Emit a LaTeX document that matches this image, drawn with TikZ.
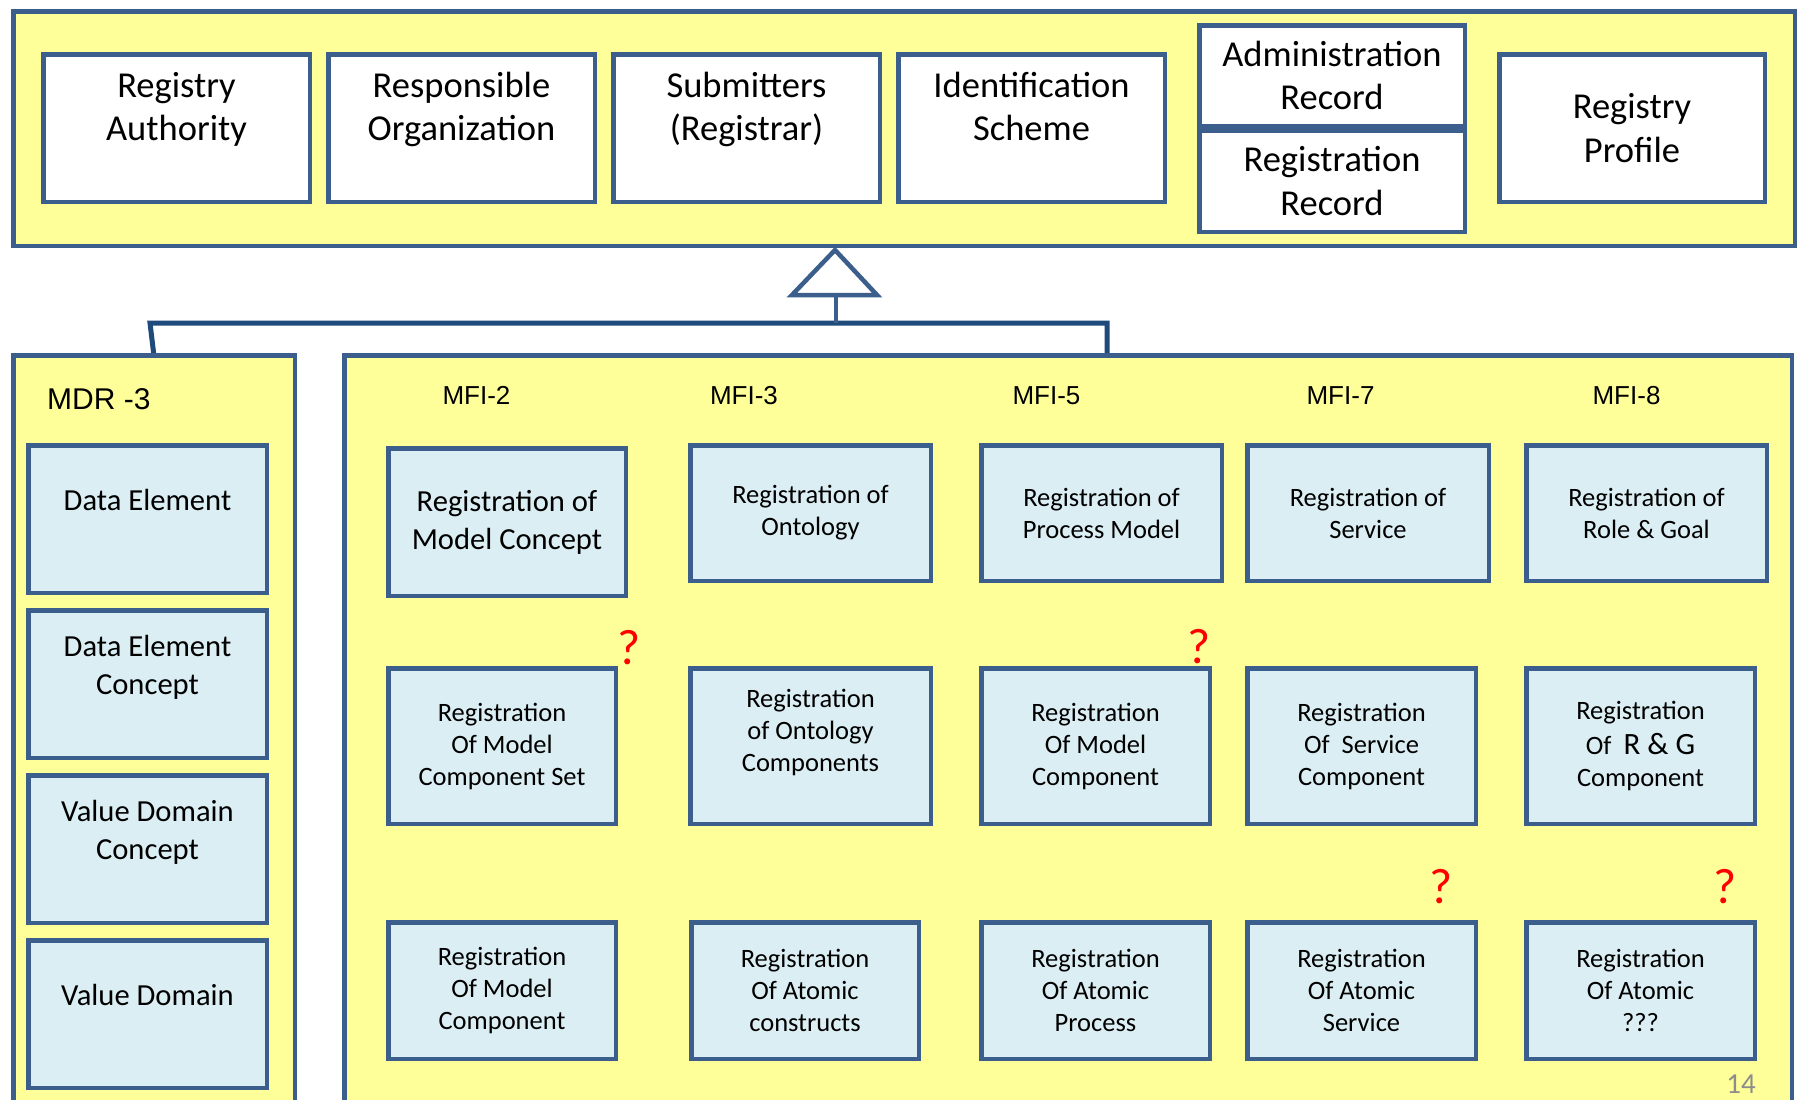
\documentclass[tikz,border=0pt]{standalone}
\usepackage{fontspec}
\setmainfont{Carlito}
\newfontfamily\arialfont{Liberation Sans}
\definecolor{bordc}{HTML}{3B5E8C}
\definecolor{navy}{HTML}{1F4A7C}
\definecolor{ylw}{HTML}{FFFF99}
\definecolor{lblue}{HTML}{DBEEF3}
\definecolor{qred}{HTML}{FF0000}
\definecolor{pgray}{HTML}{8C8C8C}
\newcommand\bx[7]{\node[#6,minimum width={#4-#2-4.5},minimum height={#5-#3-4.5}] (#1) at ({(#2+#4)/2},{(#3+#5)/2}) {#7};}
\tikzset{
  panel/.style={draw=bordc, line width=4.5pt, fill=ylw, inner sep=0pt},
  wbox/.style={draw=bordc, line width=4.5pt, fill=white, inner sep=0pt, align=center, font=\fontsize{36.5}{43.5}\selectfont},
  mdrbox/.style={draw=bordc, line width=4.5pt, fill=lblue, inner sep=0pt, align=center, font=\fontsize{30.6}{38}\selectfont},
  mfibox/.style={draw=bordc, line width=4.5pt, fill=lblue, inner sep=0pt, align=center, font=\fontsize{26.5}{32}\selectfont},
  collabel/.style={font=\arialfont\fontsize{26}{31}\selectfont, anchor=base, inner sep=0pt},
  qmark/.style={text=qred, font=\fontsize{50}{60}\selectfont, anchor=base, inner sep=0pt},
  conn/.style={draw=navy, line width=5pt, line join=miter},
  tri/.style={draw=bordc, line width=4.5pt, line join=miter},
}
\begin{document}
\begin{tikzpicture}[x=1pt,y=-1pt]
\useasboundingbox (0,0) rectangle (1800,1100);
\clip (0,0) rectangle (1800,1100);
\fill[white] (0,0) rectangle (1800,1100);
% top band
\bx{band}{11}{9}{1797}{248}{panel}{}
\bx{ra}{41}{52}{312}{204}{wbox}{Registry\\Authority\\\mbox{}}
\bx{ro}{326}{52}{597}{204}{wbox}{Responsible\\Organization\\\mbox{}}
\bx{sub}{611}{52}{882}{204}{wbox}{Submitters\\(Registrar)\\\mbox{}}
\bx{ids}{896}{52}{1167}{204}{wbox}{Identification\\Scheme\\\mbox{}}
\bx{adm}{1197}{23}{1467}{128}{wbox}{Administration\\Record}
\bx{rgr}{1197}{128}{1467}{234}{wbox}{Registration\\Record}
\bx{rp}{1497}{52}{1767}{204}{wbox}{Registry\\Profile}
% connectors
\coordinate (apex) at (835,250);
\coordinate (tbl) at (792,295);
\coordinate (tbr) at (877,295);
\coordinate (tbase) at (836,295);
\coordinate (hj) at (836,323);
\coordinate (hl) at (150,323);
\coordinate (hr) at (1107,323);
\coordinate (mdrin) at (154,356);
\coordinate (mfiin) at (1107,356);
\draw[conn] (mdrin) -- (hl) -- (hr) -- (mfiin);
\draw[tri] (tbase) -- (hj);
\draw[tri, fill=white] (apex) -- (tbl) -- (tbr) -- cycle;
% lower panels
\bx{mdr}{11}{353}{297}{1115}{panel}{}
\bx{mfi}{342}{353}{1794}{1115}{panel}{}
\node[collabel, anchor=base west, font=\arialfont\fontsize{30}{36}\selectfont] (mdrlab) at (47,409) {MDR -3};
\node[collabel] (l2) at (476.5,404) {MFI-2};
\node[collabel] (l3) at (744,404) {MFI-3};
\node[collabel] (l5) at (1046.5,404) {MFI-5};
\node[collabel] (l7) at (1340.5,404) {MFI-7};
\node[collabel] (l8) at (1626.5,404) {MFI-8};
% MDR boxes
\bx{de}{26}{443}{269}{595}{mdrbox}{Data Element\\\mbox{}}
\bx{dec}{26}{608}{269}{760}{mdrbox}{Data Element\\Concept\\\mbox{}}
\bx{vdc}{26}{773}{269}{925}{mdrbox}{Value Domain\\Concept\\\mbox{}}
\bx{vd}{26}{938}{269}{1090}{mdrbox}{Value Domain\\\mbox{}}
% MFI row 1
\bx{m2a}{386}{446}{628}{598}{mdrbox}{Registration of\\Model Concept}
\bx{m3a}{688}{443}{933}{583}{mfibox}{Registration of\\Ontology}
\bx{m5a}{979}{443}{1224}{583}{mfibox}{Registration of\\Process Model}
\bx{m7a}{1245}{443}{1491}{583}{mfibox}{Registration of\\Service}
\bx{m8a}{1524}{443}{1769}{583}{mfibox}{Registration of\\Role \& Goal}
% MFI row 2
\bx{m2b}{386}{666}{618}{826}{mfibox}{Registration\\Of Model\\Component Set}
\bx{m3b}{688}{666}{933}{826}{mfibox}{Registration\\of Ontology\\Components\\\mbox{}}
\bx{m5b}{979}{666}{1212}{826}{mfibox}{Registration\\Of Model\\Component}
\bx{m7b}{1245}{666}{1478}{826}{mfibox}{Registration\\Of\ \ Service\\Component}
\bx{m8b}{1524}{666}{1757}{826}{mfibox}{Registration\\Of\ \ {\fontsize{31}{37}\selectfont R \& G}\rule{0pt}{30pt}\\Component}
% MFI row 3
\bx{m2c}{386}{920}{618}{1061}{mfibox}{Registration\\Of Model\\Component}
\bx{m3c}{689}{920}{921}{1061}{mfibox}{Registration\\Of Atomic\\constructs}
\bx{m5c}{979}{920}{1212}{1061}{mfibox}{Registration\\Of Atomic\\Process}
\bx{m7c}{1245}{920}{1478}{1061}{mfibox}{Registration\\Of Atomic\\Service}
\bx{m8c}{1524}{920}{1757}{1061}{mfibox}{Registration\\Of Atomic\\???}
% question marks
\node[qmark] (q1) at (629,664) {?};
\node[qmark] (q2) at (1199,663) {?};
\node[qmark] (q3) at (1441,903) {?};
\node[qmark] (q4) at (1725,903) {?};
% page number
\node[anchor=base, inner sep=0pt, text=pgray, font=\fontsize{29}{34}\selectfont] (pnum) at (1741,1093) {14};
\end{tikzpicture}
\end{document}
